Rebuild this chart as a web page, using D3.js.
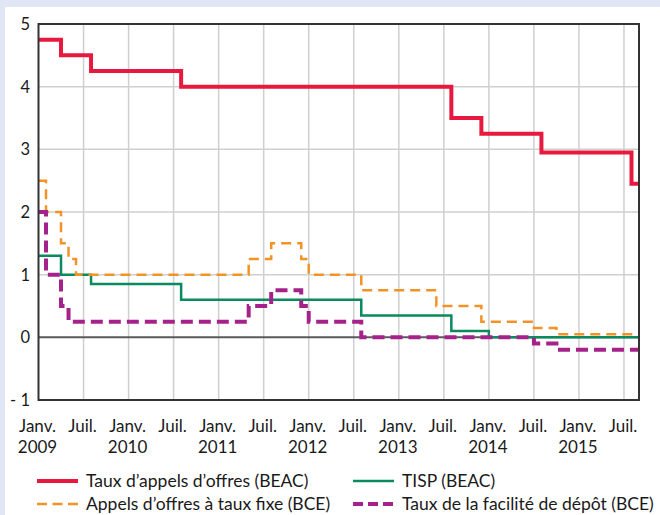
<!DOCTYPE html>
<html>
<head>
<meta charset="utf-8">
<script src="https://cdn.jsdelivr.net/npm/d3@7"></script>
<style>
  body { margin: 0; background: #e0e6f4; }
  svg { display: block; }
  text { font-family: Lato, "DejaVu Sans", sans-serif; fill: #1a1a1a; }
</style>
</head>
<body>
<svg id="chart" width="660" height="515"></svg>
<script>
// months counted from Janv. 2009 (0) ; each series is a step line
var redMonths = [0, 3, 7, 19, 55, 59, 67, 79, 80];
var redValues = [4.75, 4.5, 4.25, 4.0, 3.5, 3.25, 2.95, 2.45, 2.45];

var greenMonths = [0, 3, 7, 19, 43, 55, 60, 80];
var greenValues = [1.3, 1.0, 0.85, 0.6, 0.35, 0.1, 0, 0];

var orangeMonths = [0, 1, 3, 4, 5, 28, 31, 35, 36, 43, 53, 59, 66, 69, 80];
var orangeValues = [2.5, 2.0, 1.5, 1.25, 1.0, 1.25, 1.5, 1.25, 1.0, 0.75, 0.5, 0.25, 0.15, 0.05, 0.05];

var purpleMonths = [0, 1, 3, 4, 28, 31, 35, 36, 43, 66, 69, 80];
var purpleValues = [2.0, 1.0, 0.5, 0.25, 0.5, 0.75, 0.5, 0.25, 0, -0.1, -0.2, -0.2];

var yTicks = [-1, 0, 1, 2, 3, 4, 5];
var yTickLabels = ["- 1", "0", "1", "2", "3", "4", "5"];
var xTicks = [0, 6, 12, 18, 24, 30, 36, 42, 48, 54, 60, 66, 72, 78];
var monthLabels = ["Janv.", "Juil."];
var yearLabels = ["2009", "2010", "2011", "2012", "2013", "2014", "2015"];

var legendNames = ["Taux d\u2019appels d\u2019offres (BEAC)", "TISP (BEAC)",
                   "Appels d\u2019offres \u00e0 taux fixe (BCE)", "Taux de la facilit\u00e9 de d\u00e9p\u00f4t (BCE)"];

var svg = d3.select("#chart");

// white panel
svg.append("rect").attr("x", 5).attr("y", 7).attr("width", 655).attr("height", 508).attr("fill", "#fff");

var x = d3.scaleLinear().domain([0, 80]).range([38.5, 639]);
var y = d3.scaleLinear().domain([-1, 5]).range([400, 24]);

// grid
svg.append("g").selectAll("line").data(xTicks.slice(1)).enter().append("line")
   .attr("x1", d => x(d)).attr("x2", d => x(d))
   .attr("y1", y(5)).attr("y2", y(-1))
   .attr("stroke", "#cfcfcf").attr("stroke-width", 1.5);

svg.append("g").selectAll("line").data(yTicks.filter(d => d != 0 && d != -1 && d != 5)).enter().append("line")
   .attr("x1", x(0)).attr("x2", x(80))
   .attr("y1", d => y(d)).attr("y2", d => y(d))
   .attr("stroke", "#cfcfcf").attr("stroke-width", 1.5);

// zero line
svg.append("line").attr("x1", x(0)).attr("x2", x(80)).attr("y1", y(0)).attr("y2", y(0))
   .attr("stroke", "#5a5a5a").attr("stroke-width", 2);

// y labels
svg.append("g").selectAll("text").data(yTicks).enter().append("text")
   .attr("x", 30).attr("y", d => y(d) + 6)
   .attr("text-anchor", "end").attr("font-size", 16.5)
   .text((d, i) => yTickLabels[i]);

// x labels
var xl = svg.append("g");
xl.selectAll("text.m").data(xTicks).enter().append("text")
   .attr("class", "m")
   .attr("x", d => x(d) - 1).attr("y", 432)
   .attr("text-anchor", "middle").attr("font-size", 17)
   .text((d, i) => monthLabels[i % 2]);
xl.selectAll("text.yr").data(xTicks.filter(d => d % 12 == 0)).enter().append("text")
   .attr("class", "yr")
   .attr("x", d => x(d) - 1).attr("y", 453)
   .attr("text-anchor", "middle").attr("font-size", 17)
   .text((d, i) => yearLabels[i]);

// series
var line = d3.line().curve(d3.curveStepAfter)
   .x(d => x(d[0])).y(d => y(d[1]));

function zip(a, b) { return a.map((m, i) => [m, b[i]]); }

var series = [
  {data: zip(redMonths, redValues), color: "#e8193f", width: 4, dash: null},
  {data: zip(greenMonths, greenValues), color: "#0b8a5e", width: 2.5, dash: null},
  {data: zip(orangeMonths, orangeValues), color: "#f39325", width: 2.5, dash: "10,6"},
  {data: zip(purpleMonths, purpleValues), color: "#a5228b", width: 4, dash: "12,6"}
];

svg.append("clipPath").attr("id", "plot").append("rect")
   .attr("x", x(0)).attr("y", y(5)).attr("width", x(80) - x(0)).attr("height", y(-1) - y(5));

svg.append("g").attr("clip-path", "url(#plot)")
   .selectAll("path").data(series).enter().append("path")
   .attr("d", d => line(d.data))
   .attr("fill", "none")
   .attr("stroke", d => d.color)
   .attr("stroke-width", d => d.width)
   .attr("stroke-dasharray", d => d.dash);

// frame
svg.append("rect").attr("x", x(0)).attr("y", y(5))
   .attr("width", x(80) - x(0)).attr("height", y(-1) - y(5))
   .attr("fill", "none").attr("stroke", "#333").attr("stroke-width", 2);

// legend
var legendPos = [[37, 481], [353, 481], [37, 504], [353, 504]];
var lg = svg.append("g").selectAll("g").data(series).enter().append("g")
   .attr("transform", (d, i) => "translate(" + legendPos[i] + ")");
lg.append("line").attr("x1", 0).attr("x2", 41).attr("y1", 0).attr("y2", 0)
   .attr("stroke", d => d.color)
   .attr("stroke-width", d => d.width)
   .attr("stroke-dasharray", (d, i) => i == 2 ? "10,5.5" : (i == 3 ? "10,5" : null));
lg.append("text").attr("x", 49).attr("y", 6)
   .attr("font-size", 17.5)
   .text((d, i) => legendNames[i]);
</script>
</body>
</html>
